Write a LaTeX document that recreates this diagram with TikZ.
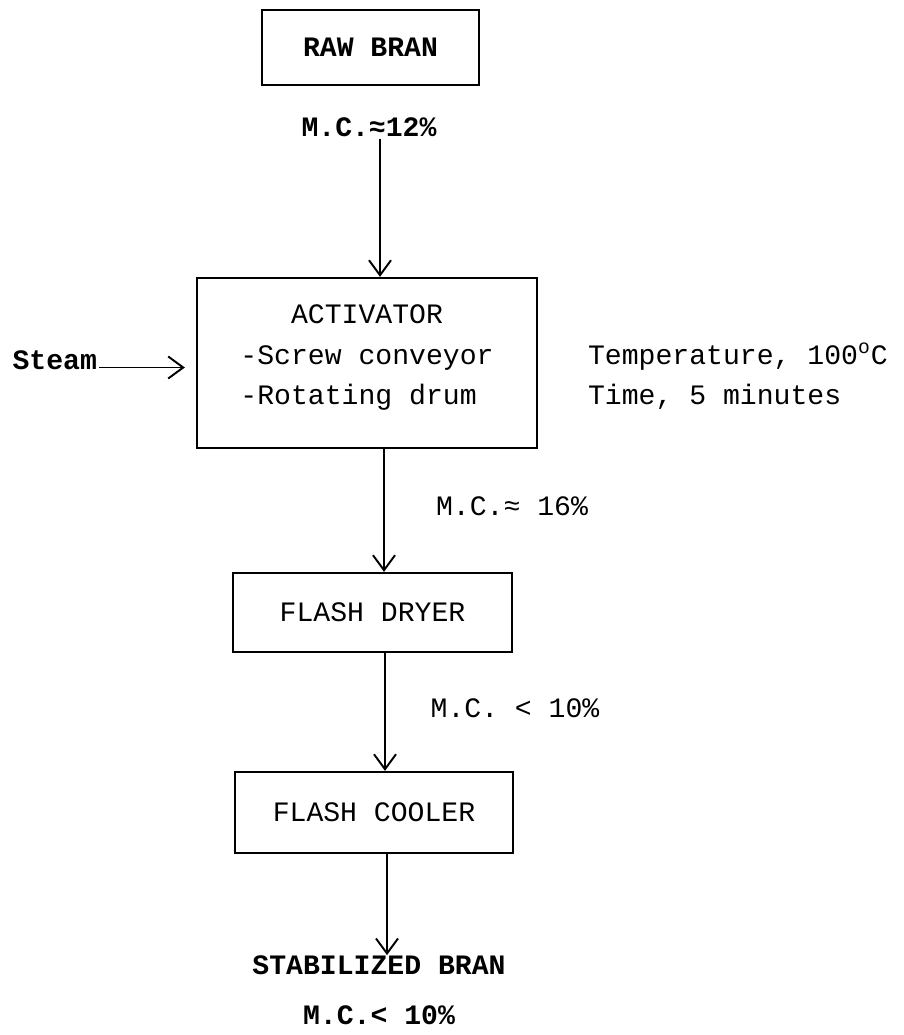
\documentclass[tikz,border=0pt]{standalone}
\usepackage{fontspec}
\setmainfont{Liberation Mono}
\usepackage{tikz}
\usetikzlibrary{arrows.meta,positioning}

\begin{document}
\begin{tikzpicture}[
    font=\fontsize{16}{22.8}\selectfont,
    unit/.style={draw=black,line width=1.3pt,align=center,inner sep=0pt},
    lbl/.style={inner sep=1pt},
    ar/.style={line width=1.1pt,-{Straight Barb[length=3mm,width=4.4mm,line width=1.1pt]}}
  ]
    \useasboundingbox (0,0) rectangle (18.06,-20.7);

    \node[unit,minimum width=4.34cm,minimum height=1.5cm,font=\fontsize{16}{22.8}\selectfont\bfseries] (raw) at (7.41,-0.95) {RAW BRAN};
    \node[lbl,font=\fontsize{16}{22.8}\selectfont\bfseries] (mc1) at (7.38,-2.54) {M.C.≈12\%};

    \node[unit,minimum width=6.8cm,minimum height=3.4cm] (act) at (7.34,-7.26)
      {\raisebox{0.14cm}[\height][\depth]{\begin{tabular}{@{}l@{}}\multicolumn{1}{@{}c@{}}{ACTIVATOR}\\[1pt]-Screw conveyor\\-Rotating drum\end{tabular}}};
    \node[lbl,anchor=east,font=\fontsize{16}{22.8}\selectfont\bfseries] (steam) at (1.98,-7.2) {Steam};
    \node[lbl,anchor=west,align=left] (cond) at (11.72,-7.53)
      {Temperature, 100\textsuperscript{o}C\\Time, 5 minutes};

    \node[lbl] (mc2) at (10.24,-10.12) {M.C.≈ 16\%};
    \node[unit,minimum width=5.58cm,minimum height=1.58cm] (dryer) at (7.45,-12.25) {FLASH DRYER};
    \node[lbl] (mc3) at (10.3,-14.16) {M.C. < 10\%};
    \node[unit,minimum width=5.56cm,minimum height=1.62cm] (cooler) at (7.48,-16.25) {FLASH COOLER};

    \node[inner sep=0pt,font=\fontsize{16}{22.8}\selectfont\bfseries] (stab) at (7.58,-19.3) {STABILIZED BRAN};
    \node[lbl,font=\fontsize{16}{22.8}\selectfont\bfseries] (mc4) at (7.58,-20.3) {M.C.< 10\%};

    \draw[ar] ([xshift=2.2mm]mc1.south) -- ([xshift=2.2mm]mc1.south |- act.north);
    \draw[ar,shorten >=0.22cm] ([yshift=-1.5mm]steam.east) -- ([yshift=-1.5mm]steam.east -| act.west);
    \draw[ar] ([xshift=3.4mm]act.south) -- ([xshift=3.4mm]act.south |- dryer.north);
    \draw[ar] ([xshift=2.5mm]dryer.south) -- ([xshift=2.5mm]dryer.south |- cooler.north);
    \draw[ar] ([xshift=2.6mm]cooler.south) -- ([xshift=2.6mm]cooler.south |- stab.north);
  \end{tikzpicture}
\end{document}
